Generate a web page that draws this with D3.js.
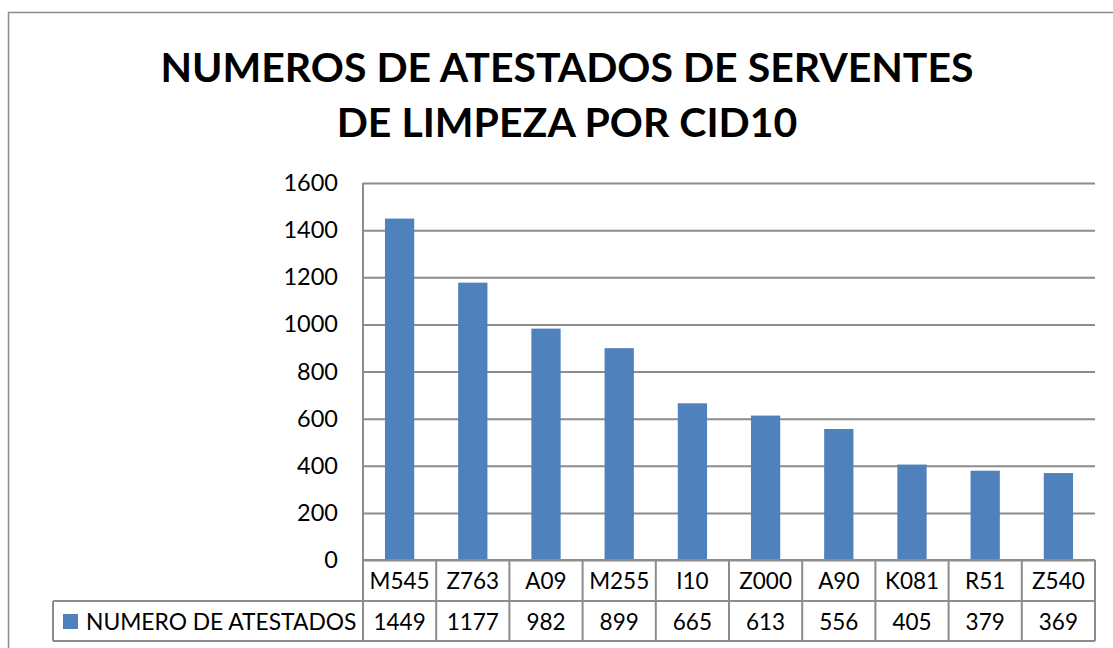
<!DOCTYPE html>
<html>
<head>
<meta charset="utf-8">
<script src="https://cdn.jsdelivr.net/npm/d3@7"></script>
<style>
  body { margin: 0; background: #fff; }
  svg { display: block; font-family: Lato, "Open Sans", sans-serif; }
</style>
</head>
<body>
<svg id="chart" width="1113" height="648"></svg>
<script>
const titleLines = ["NUMEROS DE ATESTADOS DE SERVENTES", "DE LIMPEZA POR CID10"];
const categories = ["M545", "Z763", "A09", "M255", "I10", "Z000", "A90", "K081", "R51", "Z540"];
const values = [1449, 1177, 982, 899, 665, 613, 556, 405, 379, 369];
const seriesName = "NUMERO DE ATESTADOS";
const yTicks = [0, 200, 400, 600, 800, 1000, 1200, 1400, 1600];

const barColor = "#4f81bd";
const lineColor = "#8c8c8c";
const labelSize = 22.5;

const svg = d3.select("#chart");

// outer chart frame (runs off the right and bottom edge)
svg.append("rect")
  .attr("x", 8.5).attr("y", 12.5)
  .attr("width", 1130).attr("height", 660)
  .attr("fill", "none").attr("stroke", lineColor).attr("stroke-width", 1.5);

const plot = { left: 363, right: 1095, top: 183, bottom: 560 };

const x = d3.scaleBand()
  .domain(categories)
  .range([plot.left, plot.right])
  .paddingInner(0.6)
  .paddingOuter(0.3);

const xCell = d3.scaleBand()
  .domain(categories)
  .range([plot.left, plot.right]);

const y = d3.scaleLinear()
  .domain([0, 1600])
  .range([plot.bottom, plot.top]);

// title
svg.append("g")
  .selectAll("text")
  .data(titleLines)
  .join("text")
  .attr("x", 567)
  .attr("y", (d, i) => 82 + i * 55)
  .attr("text-anchor", "middle")
  .attr("font-size", 41)
  .attr("font-weight", "700")
  .attr("fill", "#000")
  .text((d) => d);

// gridlines + y labels
const yAxis = d3.axisLeft(y)
  .tickValues(yTicks)
  .tickFormat(d3.format("d"))
  .tickSize(-(plot.right - plot.left))
  .tickPadding(25);

const yG = svg.append("g")
  .attr("transform", `translate(${plot.left},0)`)
  .call(yAxis);
yG.select(".domain").remove();
yG.selectAll(".tick line")
  .attr("stroke", lineColor)
  .attr("stroke-width", 2);
yG.selectAll(".tick text")
  .attr("font-size", 23.5)
  .attr("font-family", "Lato, sans-serif")
  .attr("fill", "#000");

// left plot edge
svg.append("line")
  .attr("x1", plot.left).attr("x2", plot.left)
  .attr("y1", plot.top).attr("y2", plot.bottom)
  .attr("stroke", lineColor).attr("stroke-width", 2);

// bars
svg.append("g")
  .selectAll("rect")
  .data(values)
  .join("rect")
  .attr("x", (d, i) => x(categories[i]))
  .attr("y", (d) => y(d))
  .attr("width", x.bandwidth())
  .attr("height", (d) => y(0) - y(d))
  .attr("fill", barColor);

// data table
const rowTop = plot.bottom;
const rowMid = 601;
const rowBot = 641;
const legendLeft = 53;
const table = svg.append("g")
  .attr("stroke", lineColor)
  .attr("stroke-width", 2)
  .attr("fill", "none");

table.append("line")
  .attr("x1", plot.left).attr("x2", plot.right)
  .attr("y1", rowTop).attr("y2", rowTop);
table.append("line")
  .attr("x1", legendLeft).attr("x2", plot.right)
  .attr("y1", rowMid).attr("y2", rowMid);
table.append("line")
  .attr("x1", legendLeft).attr("x2", plot.right)
  .attr("y1", rowBot).attr("y2", rowBot);
table.append("line")
  .attr("x1", legendLeft).attr("x2", legendLeft)
  .attr("y1", rowMid).attr("y2", rowBot);

table.selectAll("line.col")
  .data(categories.concat([null]))
  .join("line")
  .attr("class", "col")
  .attr("x1", (d) => (d === null ? plot.right : xCell(d)))
  .attr("x2", (d) => (d === null ? plot.right : xCell(d)))
  .attr("y1", rowTop)
  .attr("y2", rowBot);

const cellText = svg.append("g")
  .attr("font-size", labelSize)
  .attr("fill", "#000")
  .attr("text-anchor", "middle");

cellText.selectAll("text.cat")
  .data(categories)
  .join("text")
  .attr("class", "cat")
  .attr("x", (d) => xCell(d) + xCell.bandwidth() / 2)
  .attr("y", rowTop + 29)
  .text((d) => d);

cellText.selectAll("text.val")
  .data(values)
  .join("text")
  .attr("class", "val")
  .attr("x", (d, i) => xCell(categories[i]) + xCell.bandwidth() / 2)
  .attr("y", rowMid + 29)
  .text((d) => d);

// legend key in the table
svg.append("rect")
  .attr("x", 63).attr("y", 614)
  .attr("width", 15).attr("height", 15)
  .attr("fill", barColor);
svg.append("text")
  .attr("x", 86).attr("y", rowMid + 29)
  .attr("font-size", 22.8)
  .attr("fill", "#000")
  .text(seriesName);
</script>
</body>
</html>
